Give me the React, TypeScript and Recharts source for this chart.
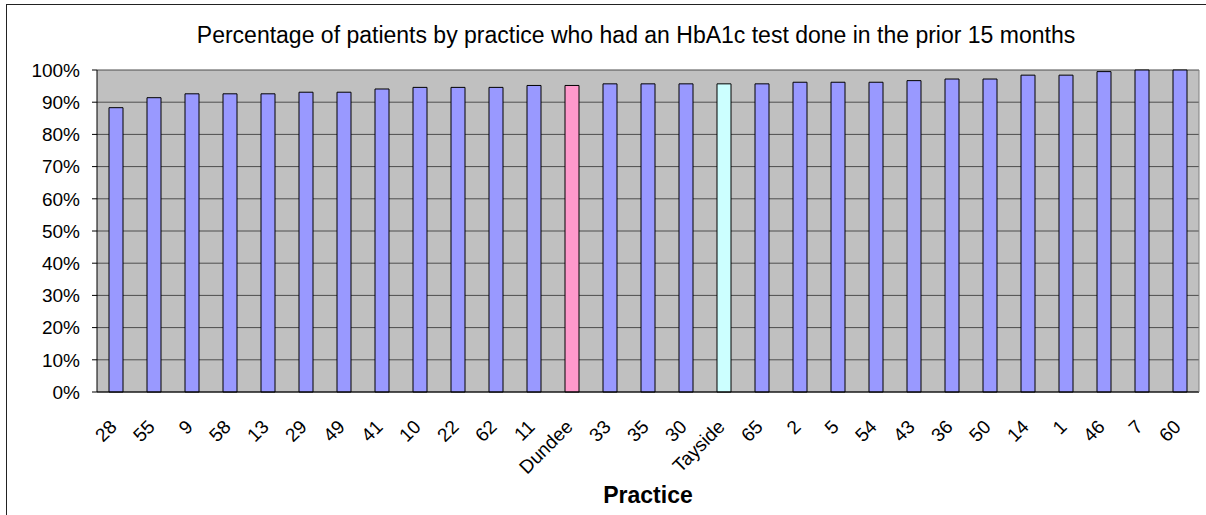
import { BarChart, Bar, XAxis, YAxis, CartesianGrid, Cell } from "recharts";

const practices = [
  "28", "55", "9", "58", "13", "29", "49", "41", "10", "22", "62", "11", "Dundee", "33", "35",
  "30", "Tayside", "65", "2", "5", "54", "43", "36", "50", "14", "1", "46", "7", "60",
];
const percentTested = [
  88.3, 91.4, 92.6, 92.6, 92.6, 93.1, 93.1, 94.1, 94.6, 94.6, 94.6, 95.2, 95.2, 95.7, 95.7,
  95.7, 95.7, 95.7, 96.2, 96.2, 96.2, 96.7, 97.2, 97.2, 98.4, 98.4, 99.5, 100, 100,
];
const yTicks = [0, 10, 20, 30, 40, 50, 60, 70, 80, 90, 100];
const highlight: Record<string, string> = { Dundee: "#FF99CC", Tayside: "#CCFFFF" };

const data = practices.map((p, i) => ({ practice: p, value: percentTested[i] }));
// category boundaries, for the Excel-style tick marks between bars
const boundaries = [...practices.map((_, i) => i), practices.length];

const FONT = '"Liberation Sans", Arial, sans-serif';

function PracticeTick(props: any) {
  const { x, y, payload } = props;
  const ax = x + 2;
  const ay = y + 31;
  return (
    <text
      x={ax}
      y={ay}
      textAnchor="end"
      transform={`rotate(-45, ${ax}, ${ay})`}
      fontSize={19}
      fontFamily={FONT}
      fill="#000"
    >
      {payload.value}
    </text>
  );
}

export default function App() {
  return (
    <div
      style={{
        position: "fixed",
        left: 0,
        top: 0,
        width: 1206,
        height: 515,
        overflow: "hidden",
        background: "#fff",
        fontFamily: FONT,
      }}
    >
      <div
        style={{
          position: "absolute",
          left: 6,
          top: 4,
          width: 1300,
          height: 600,
          border: "1px solid #222",
        }}
      />
      <div
        style={{
          position: "absolute",
          left: 0,
          top: 23.5,
          width: 1272,
          textAlign: "center",
          fontSize: 23,
          lineHeight: "23px",
          color: "#000",
        }}
      >
        Percentage of patients by practice who had an HbA1c test done in the prior 15 months
      </div>
      <div
        style={{
          position: "absolute",
          left: 0,
          top: 483.5,
          width: 1296,
          textAlign: "center",
          fontSize: 23,
          fontWeight: "bold",
          lineHeight: "23px",
          color: "#000",
        }}
      >
        Practice
      </div>
      <div style={{ position: "absolute", left: 0, top: 0 }}>
        <BarChart
          width={1206}
          height={515}
          data={data}
          margin={{ top: 70, right: 0, left: 0, bottom: 33 }}
          barSize={14}
        >
          <CartesianGrid
            xAxisId="practice"
            yAxisId="left"
            vertical={false}
            fill="#C0C0C0"
            stroke="#4d4d4d"
            fillOpacity={1}
          />
          <XAxis
            xAxisId="bounds"
            type="number"
            domain={[0, practices.length]}
            ticks={boundaries}
            interval={0}
            height={5}
            tickSize={5}
            tick={false}
            tickLine={{ stroke: "#000" }}
            axisLine={{ stroke: "#000" }}
          />
          <XAxis
            xAxisId="practice"
            dataKey="practice"
            interval={0}
            height={85}
            tickSize={0}
            tickMargin={0}
            tickLine={false}
            axisLine={false}
            tick={<PracticeTick />}
          />
          <YAxis
            yAxisId="left"
            width={97}
            domain={[0, 100]}
            ticks={yTicks}
            interval={0}
            tickSize={5}
            tickMargin={12}
            tickFormatter={(v) => `${v}%`}
            tickLine={{ stroke: "#000" }}
            axisLine={{ stroke: "#000" }}
            tick={{ fontSize: 19, fontFamily: FONT, fill: "#000" }}
          />
          <YAxis
            yAxisId="right"
            orientation="right"
            width={7}
            domain={[0, 100]}
            tick={false}
            tickLine={false}
            axisLine={{ stroke: "#808080" }}
          />
          <Bar
            dataKey="value"
            xAxisId="practice"
            yAxisId="left"
            fill="#9999FF"
            stroke="#000"
            strokeWidth={1}
            isAnimationActive={false}
          >
            {data.map((d) => (
              <Cell key={d.practice} fill={highlight[d.practice] ?? "#9999FF"} />
            ))}
          </Bar>
        </BarChart>
      </div>
    </div>
  );
}
